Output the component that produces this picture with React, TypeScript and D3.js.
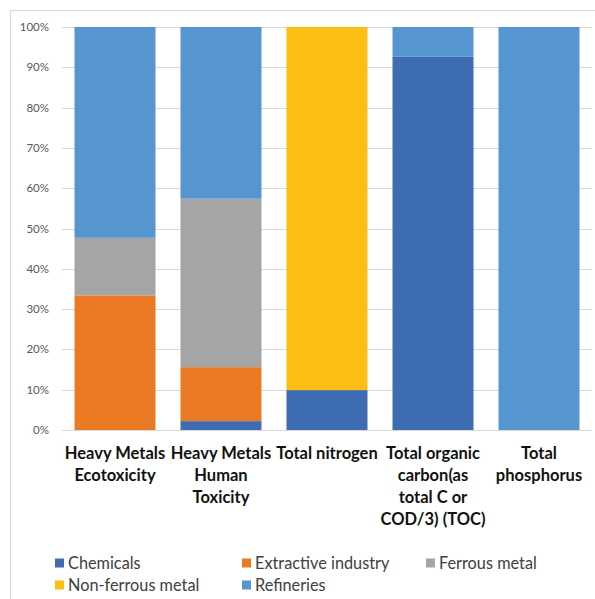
import React from "react";
import * as d3 from "d3";

const categories = [
  "Heavy Metals Ecotoxicity",
  "Heavy Metals Human Toxicity",
  "Total nitrogen",
  "Total organic carbon(as total C or COD/3) (TOC)",
  "Total phosphorus",
];
const categoryLines = [
  ["Heavy Metals", "Ecotoxicity"],
  ["Heavy Metals", "Human", "Toxicity"],
  ["Total nitrogen"],
  ["Total organic", "carbon(as", "total C or", "COD/3) (TOC)"],
  ["Total", "phosphorus"],
];
const seriesNames = ["Chemicals", "Extractive industry", "Ferrous metal", "Non-ferrous metal", "Refineries"];
const chemicals = [0, 2.2, 9.9, 92.6, 0];
const extractive = [33.4, 13.4, 0, 0, 0];
const ferrous = [14.3, 41.8, 0, 0, 0];
const nonFerrous = [0, 0, 90.1, 0, 0];
const refineries = [52.3, 42.6, 0, 7.4, 100];
const yTicks = [0, 0.1, 0.2, 0.3, 0.4, 0.5, 0.6, 0.7, 0.8, 0.9, 1];
const colors = ["#3E6CB3", "#EA7A24", "#A5A5A5", "#FBBE14", "#5596D0"];

export default function App() {
  const W = 595, H = 599;
  const left = 62, right = 592, top = 27, bottom = 430;
  const font = "Lato, 'Open Sans', sans-serif";

  const seriesValues = [chemicals, extractive, ferrous, nonFerrous, refineries];
  const rows = categories.map((c, i) => {
    const r: any = { cat: c };
    seriesNames.forEach((s, j) => (r[s] = seriesValues[j][i]));
    return r;
  });
  const stacked = d3.stack().keys(seriesNames).offset(d3.stackOffsetExpand)(rows);

  const x = d3.scaleBand().domain(categories).range([left, right]).paddingInner(0.236).paddingOuter(0.118);
  const y = d3.scaleLinear().domain([0, 1]).range([bottom, top]);
  const pct = d3.format(".0%");

  const legendPos = [
    [55, 563], [242, 563], [426, 563],
    [55, 585], [242, 585],
  ];

  return (
    <svg width={W} height={H} style={{ position: "absolute", left: 0, top: 0, background: "#fff" }}>
      <line x1={10.5} y1={10} x2={10.5} y2={H} stroke="#d9d9d9" />
      <line x1={10} y1={10.5} x2={W} y2={10.5} stroke="#d9d9d9" />
      {yTicks.map((t) => (
        <g key={t}>
          <line x1={left} x2={right} y1={Math.round(y(t)) + 0.5} y2={Math.round(y(t)) + 0.5} stroke="#d9d9d9" />
          <text x={49} y={y(t)} dy="0.35em" textAnchor="end" fontFamily={font} fontSize={11.5} fill="#595959">
            {pct(t)}
          </text>
        </g>
      ))}
      {stacked.map((s, j) => (
        <g key={s.key} fill={colors[j]}>
          {s.map((d: any, i: number) =>
            d[1] - d[0] > 0 ? (
              <rect key={i} x={x(categories[i])!} width={x.bandwidth()} y={y(d[1])} height={y(d[0]) - y(d[1])} />
            ) : null
          )}
        </g>
      ))}
      {categories.map((c, i) => (
        <text key={c} textAnchor="middle" fontFamily={font} fontWeight="bold" fontSize={16.5} fill="#111">
          {categoryLines[i].map((ln, k) => (
            <tspan key={k} x={x(c)! + x.bandwidth() / 2} y={453 + k * 22} dy="0.35em">
              {ln}
            </tspan>
          ))}
        </text>
      ))}
      {seriesNames.map((s, j) => {
        const [lx, ly] = legendPos[j];
        return (
          <g key={s}>
            <rect x={lx} y={ly - 4.5} width={9} height={9} fill={colors[j]} />
            <text x={lx + 13} y={ly} dy="0.35em" fontFamily={font} fontSize={16.3} fill="#404040">
              {s}
            </text>
          </g>
        );
      })}
    </svg>
  );
}
